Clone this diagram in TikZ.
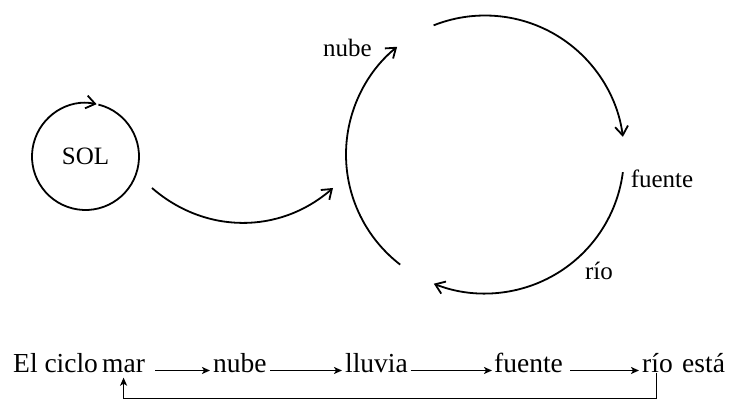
\documentclass[tikz,border=0pt]{standalone}
\usepackage{fontspec}
\setmainfont{Liberation Serif}
\usetikzlibrary{arrows.meta,calc}
\begin{document}
\begin{tikzpicture}[x=1pt,y=1pt,
  lbl/.style={inner sep=0pt,font=\fontsize{25}{30}\selectfont},
  word/.style={inner sep=0pt,anchor=base west,text height=0.7em,text depth=0.2em,font=\fontsize{27.5}{33}\selectfont},
  bigarrow/.style={line width=1.8pt,-{Straight Barb[length=9pt,width=13pt,line width=1.8pt]}},
  smallarrow/.style={line width=1.4pt,-{Stealth[length=8pt,width=7pt,inset=2pt]}}]
\useasboundingbox (0,0) rectangle (737,404);
% SOL
\node[lbl,circle,minimum size=107pt] (sol) at (85.5,247.5) {SOL};
\draw[bigarrow] ($(sol.center)+(436:53.5pt)$) arc[start angle=436,end angle=78,radius=53.5pt];
% big cycle
\coordinate (cyc) at (485,249.5);
\draw[bigarrow] ($(cyc)+(232.4:139pt)$) arc[start angle=232.4,end angle=129.2,radius=139pt];
\draw[bigarrow] ($(cyc)+(111.7:139pt)$) arc[start angle=111.7,end angle=7.3,radius=139pt];
\draw[bigarrow] ($(cyc)+(-7.3:139pt)$) arc[start angle=-7.3,end angle=-111.6,radius=139pt];
% SOL to cycle
\coordinate (s1) at (152,216);
\coordinate (s2) at (333,216);
\draw[bigarrow] (s1) to[bend right=41] (s2);
% labels
\node[lbl,anchor=base] (nubeT) at (347.5,347) {nube};
\node[lbl,anchor=base] (fuenteT) at (662,216) {fuente};
\node[lbl,anchor=base] (rioT) at (599,124) {río};
% bottom line
\node[word] (el) at (13,31) {El ciclo};
\node[word] (mar) at (102,31) {mar};
\node[word] (nube) at (213,31) {nube};
\node[word] (lluvia) at (345,31) {lluvia};
\node[word] (fuente) at (494,31) {fuente};
\node[word] (rio) at (642,31) {río};
\node[word] (esta) at (682,31) {está};
\draw[smallarrow,shorten <=10pt,shorten >=3pt] (mar.east) -- (nube.west);
\draw[smallarrow,shorten <=3.5pt,shorten >=3pt] (nube.east) -- (lluvia.west);
\draw[smallarrow,shorten <=2.5pt,shorten >=2pt] (lluvia.east) -- (fuente.west);
\draw[smallarrow,shorten <=7pt,shorten >=3pt] (fuente.east) -- (rio.west);
\draw[smallarrow] ([shift={(-1pt,2.5pt)}]rio.south) -- ++(0,-26) -| ([yshift=-2.5pt]mar.south);
\end{tikzpicture}
\end{document}
